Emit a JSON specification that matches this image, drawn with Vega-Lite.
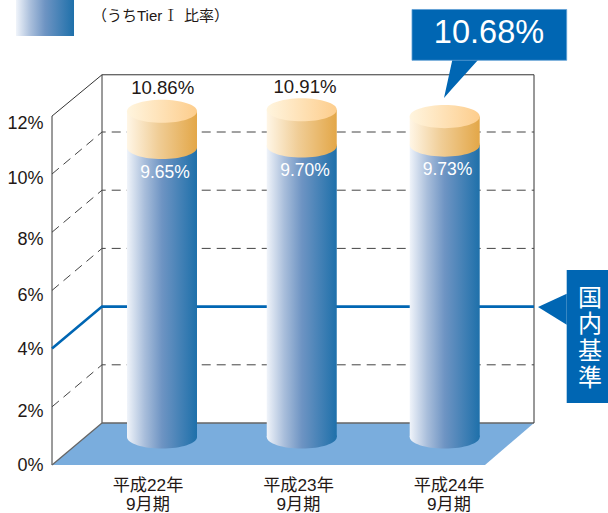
{
"$schema":"https://vega.github.io/schema/vega-lite/v6.json",
"width":564,"height":513,
"autosize":{"type":"none"},
"padding":{"left":44,"top":0,"right":0,"bottom":0},
"background":"white",
"config":{"view":{"stroke":null}},
"datasets":{
 "cylinders":[
  {"period":"平成22年9月期","u":1.0,"left":0.7518,"right":1.2482,"base":0,"tier1":9.65,"total":10.86,"tier1Label":"9.65%","totalLabel":"10.86%","labelU":1.0213,"totalU":1.005},
  {"period":"平成23年9月期","u":1.9911,"left":1.7429,"right":2.2393,"base":0,"tier1":9.70,"total":10.91,"tier1Label":"9.70%","totalLabel":"10.91%","labelU":2.014,"totalU":2.014},
  {"period":"平成24年9月期","u":3.005,"left":2.7568,"right":3.2532,"base":0,"tier1":9.73,"total":10.68,"tier1Label":"9.73%","labelU":3.0248}
 ]
},
"resolve":{"scale":{"y":"independent"}},
"encoding":{
 "x":{"field":"u","type":"quantitative","scale":{"domain":[0.1631,4.1631],"nice":false,"zero":false},"axis":null},
 "y":{"field":"v","type":"quantitative","scale":{"domain":[-1.6495,15.9794],"nice":false,"zero":false},"axis":null}
},
"layer":[
 {"data":{"values":[{"u":0.2199,"v":0,"v2":0},{"u":0.5745,"v":1.4433,"v2":0},{"u":3.2908,"v":1.4433,"v2":0},{"u":3.6383,"v":1.4433,"v2":1.4433}]},
  "mark":{"type":"area","color":"#7aaddd"},
  "encoding":{
   "y":{"field":"v","type":"quantitative","scale":{"domain":[-1.6495,15.9794],"nice":false,"zero":false},
    "axis":{"values":[0,2,4,6,8,10,12],"labelExpr":"datum.value+'%'","domain":false,"ticks":false,"grid":false,"title":null,"labelPadding":1,"labelFont":"Liberation Sans","labelFontSize":18,"labelColor":"#231815","labelBaseline":"middle",
     "encoding":{"labels":{"dy":{"value":{"expr":"datum.value==12?7.7:datum.value==10?4.5:datum.value==8?7.5:datum.value==6?5:datum.value==2?5:1"}}}}}},
   "y2":{"field":"v2"}}},
 {"data":{"values":[
   {"seg":"a","i":1,"u":0.2199,"v":0},{"seg":"a","i":2,"u":0.2199,"v":11.99},
   {"seg":"b","i":1,"u":0.5745,"v":13.41},{"seg":"b","i":2,"u":0.5745,"v":1.4433},{"seg":"b","i":3,"u":3.6383,"v":1.4433},
   {"seg":"c","i":1,"u":0.2199,"v":0},{"seg":"c","i":2,"u":0.5745,"v":1.4433}]},
  "mark":{"type":"line","color":"#666666","strokeWidth":1.3},
  "encoding":{"detail":{"field":"seg"},"order":{"field":"i"}}},
 {"data":{"values":[{"i":1,"u":0.2199,"v":11.99},{"i":2,"u":0.5745,"v":13.41},{"i":3,"u":3.6383,"v":13.41},{"i":4,"u":3.6383,"v":1.4433}]},
  "mark":{"type":"line","color":"#333333","strokeWidth":1},
  "encoding":{"order":{"field":"i"}}},
 {"data":{"values":[
   {"level":2,"i":1,"u":0.2199,"v":2},{"level":2,"i":2,"u":0.5745,"v":3.4433},{"level":2,"i":3,"u":3.6383,"v":3.4433},
   {"level":6,"i":1,"u":0.2199,"v":6},{"level":6,"i":2,"u":0.5745,"v":7.4433},{"level":6,"i":3,"u":3.6383,"v":7.4433},
   {"level":8,"i":1,"u":0.2199,"v":8},{"level":8,"i":2,"u":0.5745,"v":9.4433},{"level":8,"i":3,"u":3.6383,"v":9.4433},
   {"level":10,"i":1,"u":0.2199,"v":10},{"level":10,"i":2,"u":0.5745,"v":11.4433},{"level":10,"i":3,"u":3.6383,"v":11.4433}]},
  "mark":{"type":"line","color":"#444444","strokeWidth":1,"strokeDash":[9,6]},
  "encoding":{"detail":{"field":"level"},"order":{"field":"i"}}},
 {"data":{"values":[{"i":1,"u":0.2199,"v":4},{"i":2,"u":0.5745,"v":5.4433},{"i":3,"u":3.6383,"v":5.4433}]},
  "mark":{"type":"line","color":"#0066b3","strokeWidth":2.6},
  "encoding":{"order":{"field":"i"}}},

 {"data":{"name":"cylinders"},
  "mark":{"type":"rect","fill":{"gradient":"linear","x1":0,"x2":1,"y1":0,"y2":0,"stops":[{"offset":0,"color":"#f0f4fa"},{"offset":0.25,"color":"#a9bedb"},{"offset":0.5,"color":"#6e94c3"},{"offset":1,"color":"#1e70aa"}]}},
  "encoding":{"x":{"field":"left","type":"quantitative"},"x2":{"field":"right"},
   "y":{"field":"tier1","type":"quantitative","scale":{"domain":[-2.5333,14.5667],"nice":false,"zero":false},"axis":null},"y2":{"field":"base"}}},
 {"data":{"name":"cylinders"},
  "mark":{"type":"point","filled":true,"opacity":1,"size":4900,"strokeWidth":0,"shape":"M-1,0A1,0.33 0 1 0 1,0A1,0.33 0 1 0 -1,0Z","fill":{"gradient":"linear","x1":0,"x2":1,"y1":0,"y2":0,"stops":[{"offset":0,"color":"#f0f4fa"},{"offset":0.25,"color":"#a9bedb"},{"offset":0.5,"color":"#6e94c3"},{"offset":1,"color":"#1e70aa"}]}},
  "encoding":{"y":{"field":"base","type":"quantitative","scale":{"domain":[-2.5333,14.5667],"nice":false,"zero":false},"axis":null}}},
 {"data":{"name":"cylinders"},
  "mark":{"type":"rect","fill":{"gradient":"linear","x1":0,"x2":1,"y1":0,"y2":0,"stops":[{"offset":0,"color":"#fff6e6"},{"offset":0.45,"color":"#f0cd96"},{"offset":1,"color":"#e3a748"}]}},
  "encoding":{"x":{"field":"left","type":"quantitative"},"x2":{"field":"right"},
   "y":{"field":"total","type":"quantitative","scale":{"domain":[-2.5333,14.5667],"nice":false,"zero":false},"axis":null},"y2":{"field":"tier1"}}},
 {"data":{"name":"cylinders"},
  "mark":{"type":"point","filled":true,"opacity":1,"size":4900,"strokeWidth":0,"shape":"M-1,0A1,0.33 0 1 0 1,0A1,0.33 0 1 0 -1,0Z","fill":{"gradient":"linear","x1":0,"x2":1,"y1":0,"y2":0,"stops":[{"offset":0,"color":"#fff6e6"},{"offset":0.45,"color":"#f0cd96"},{"offset":1,"color":"#e3a748"}]}},
  "encoding":{"y":{"field":"tier1","type":"quantitative","scale":{"domain":[-2.5333,14.5667],"nice":false,"zero":false},"axis":null}}},
 {"data":{"name":"cylinders"},
  "mark":{"type":"point","filled":true,"opacity":1,"size":4900,"strokeWidth":0,"shape":"M-1,0A1,0.33 0 1 0 1,0A1,0.33 0 1 0 -1,0Z","fill":{"gradient":"linear","x1":0,"x2":1,"y1":0,"y2":0,"stops":[{"offset":0,"color":"#fff5df"},{"offset":1,"color":"#fdcd8c"}]}},
  "encoding":{"y":{"field":"total","type":"quantitative","scale":{"domain":[-2.5333,14.5667],"nice":false,"zero":false},"axis":null}}},
 {"data":{"name":"cylinders"},
  "mark":{"type":"text","font":"Liberation Sans","fontSize":17.5,"color":"white","dy":25},
  "encoding":{"x":{"field":"labelU","type":"quantitative"},
   "y":{"field":"tier1","type":"quantitative","scale":{"domain":[-2.5333,14.5667],"nice":false,"zero":false},"axis":null},
   "text":{"field":"tier1Label"}}},
 {"data":{"name":"cylinders"},"transform":[{"filter":"datum.totalLabel"}],
  "mark":{"type":"text","font":"Liberation Sans","fontSize":18.6,"color":"#231815","dy":-23},
  "encoding":{"x":{"field":"totalU","type":"quantitative"},
   "y":{"field":"total","type":"quantitative","scale":{"domain":[-2.5333,14.5667],"nice":false,"zero":false},"axis":null},
   "text":{"field":"totalLabel"}}},

 {"data":{"values":[{"line":"平成22年","u":0.9007,"v":-0.722},{"line":"9月期","u":0.9007,"v":-1.375},{"line":"平成23年","u":1.968,"v":-0.722},{"line":"9月期","u":1.968,"v":-1.375},{"line":"平成24年","u":3.0355,"v":-0.722},{"line":"9月期","u":3.0355,"v":-1.375}]},
  "mark":{"type":"text","font":"Liberation Sans, Noto Sans CJK JP","fontSize":17.2,"color":"#231815"},
  "encoding":{"text":{"field":"line"}}},

 {"data":{"values":[{"u":-0.0355,"u2":0.3759,"v":15.98,"v2":14.742}]},
  "mark":{"type":"rect","fill":{"gradient":"linear","x1":0,"x2":1,"y1":0,"y2":0,"stops":[{"offset":0,"color":"#f0f4fa"},{"offset":0.25,"color":"#a9bedb"},{"offset":0.5,"color":"#6e94c3"},{"offset":1,"color":"#1e70aa"}]}},
  "encoding":{"x2":{"field":"u2"},"y2":{"field":"v2"}}},
 {"data":{"values":[{"t":"（うちTier","u":0.5035,"v":15.43},{"t":"比率）","u":1.156,"v":15.43}]},
  "mark":{"type":"text","align":"left","font":"Liberation Sans, Noto Sans CJK JP","fontSize":15,"color":"#231815"},
  "encoding":{"text":{"field":"t"}}},
 {"data":{"values":[{"t":"Ⅰ","u":1.0617,"v":15.43}]},
  "mark":{"type":"text","font":"Noto Serif CJK JP, Noto Sans CJK JP","fontSize":15,"color":"#231815"},
  "encoding":{"text":{"field":"t"}}},

 {"data":{"values":[{"u":3.0,"v":12.612,"v2":12.612},{"u":3.0589,"v":13.918,"v2":12.942},{"u":3.2411,"v":13.918,"v2":13.918}]},
  "mark":{"type":"area","color":"#0066b3"},
  "encoding":{"y2":{"field":"v2"}}},
 {"data":{"values":[{"u":2.773,"u2":3.8702,"v":15.653,"v2":13.907}]},
  "mark":{"type":"rect","fill":"#0066b3","stroke":"#5f9fd4","strokeWidth":0.8},
  "encoding":{"x2":{"field":"u2"},"y2":{"field":"v2"}}},
 {"data":{"values":[{"t":"10.68%","u":3.319,"v":14.845}]},
  "mark":{"type":"text","font":"Liberation Sans","fontSize":32.5,"color":"white"},
  "encoding":{"text":{"field":"t"}}},

 {"data":{"values":[{"u":3.6667,"v":5.43,"v2":5.43},{"u":3.8702,"v":5.887,"v2":4.821}]},
  "mark":{"type":"area","color":"#0066b3"},
  "encoding":{"y2":{"field":"v2"}}},
 {"data":{"values":[{"u":3.8702,"u2":4.248,"v":6.701,"v2":2.131}]},
  "mark":{"type":"rect","fill":"#0066b3"},
  "encoding":{"x2":{"field":"u2"},"y2":{"field":"v2"}}},
 {"data":{"values":[{"u":4.0355,"v":5.715}]},
  "mark":{"type":"text","text":["国","内","基","準"],"lineHeight":26.7,"font":"Noto Sans CJK JP","fontSize":24,"color":"white","baseline":"middle"}}
]
}
